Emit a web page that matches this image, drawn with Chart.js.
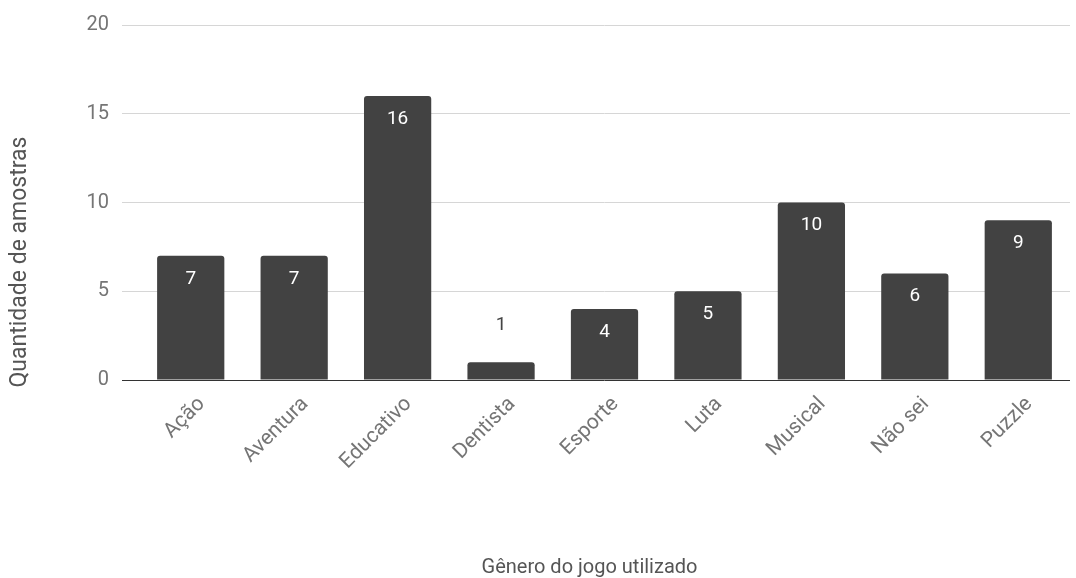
<!DOCTYPE html>
<html>
<head>
<meta charset="utf-8">
<script src="https://cdn.jsdelivr.net/npm/chart.js@4.4.1/dist/chart.umd.min.js"></script>
<style>
  html, body { margin: 0; padding: 0; background: #fff; }
  #wrap { width: 1076px; height: 578px; }
</style>
</head>
<body>
<div id="wrap"><canvas id="chart" width="1076" height="578"></canvas></div>
<script>
const generos = ["Ação", "Aventura", "Educativo", "Dentista", "Esporte", "Luta", "Musical", "Não sei", "Puzzle"];
const amostras = [7, 7, 16, 1, 4, 5, 10, 6, 9];
const yTicks = [0, 5, 10, 15, 20];
const tituloX = "Gênero do jogo utilizado";
const tituloY = "Quantidade de amostras";

const FONT = "Roboto, 'Noto Sans', sans-serif";

// value labels: white inside the bar, or dark above it when the bar is too short
const barLabels = {
  id: "barLabels",
  afterDatasetsDraw(chart) {
    const ctx = chart.ctx;
    const meta = chart.getDatasetMeta(0);
    ctx.save();
    ctx.font = "19px " + FONT;
    ctx.textAlign = "center";
    ctx.textBaseline = "middle";
    meta.data.forEach((bar, i) => {
      const v = amostras[i];
      const h = bar.base - bar.y;
      if (h < 40) {
        ctx.fillStyle = "#444444";
        ctx.fillText(String(v), bar.x, bar.y - 37);
      } else {
        ctx.fillStyle = "#ffffff";
        ctx.fillText(String(v), bar.x, bar.y + 23);
      }
    });
    ctx.restore();
  }
};

// axis titles, placed a little off the plot centre like the Sheets export
const axisTitles = {
  id: "axisTitles",
  afterDraw(chart) {
    const ctx = chart.ctx;
    const area = chart.chartArea;
    ctx.save();
    ctx.fillStyle = "#555555";
    ctx.textAlign = "center";
    ctx.textBaseline = "middle";
    ctx.font = "20px " + FONT;
    ctx.fillText(tituloX, (area.left + area.right) / 2 - 15, chart.height - 10);
    ctx.translate(20, area.bottom - 118);
    ctx.rotate(-Math.PI / 2);
    ctx.font = "23px " + FONT;
    ctx.fillText(tituloY, 0, 0);
    ctx.restore();
  }
};

new Chart(document.getElementById("chart"), {
  type: "bar",
  data: {
    labels: generos,
    datasets: [{
      data: amostras,
      backgroundColor: "#424242",
      borderRadius: 3,
      borderSkipped: "bottom",
      categoryPercentage: 1,
      barPercentage: 0.65
    }]
  },
  options: {
    responsive: false,
    animation: false,
    layout: { padding: { left: 4, right: 6, top: 17, bottom: 0 } },
    plugins: {
      legend: { display: false },
      tooltip: { enabled: false },
      title: { display: false }
    },
    scales: {
      x: {
        grid: { display: false, drawTicks: false },
        border: { display: false },
        ticks: {
          color: "#757575",
          font: { family: FONT, size: 21 },
          minRotation: 45,
          maxRotation: 45,
          padding: 12,
          labelOffset: 11
        },
        afterFit(scale) { scale.height = 198; }
      },
      y: {
        min: 0,
        max: 20,
        afterBuildTicks(scale) { scale.ticks = yTicks.map(v => ({ value: v })); },
        grid: {
          color: ctx => ctx.tick && ctx.tick.value === 0 ? "#333333" : "#d6d6d6",
          lineWidth: 1,
          tickLength: 17,
          drawTicks: true
        },
        border: { display: false },
        ticks: {
          color: "#757575",
          font: { family: FONT, size: 20 },
          padding: 13
        },
        afterFit(scale) { scale.width = 135; }
      }
    }
  },
  plugins: [barLabels, axisTitles]
});
</script>
</body>
</html>
